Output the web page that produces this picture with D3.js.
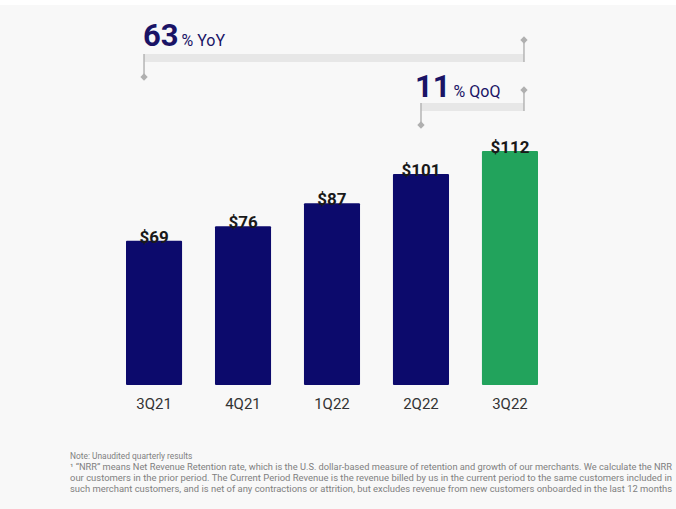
<!DOCTYPE html>
<html>
<head>
<meta charset="utf-8">
<script src="https://cdn.jsdelivr.net/npm/d3@7"></script>
<style>
  html, body { margin: 0; padding: 0; background: #f8f8f8; overflow: hidden; }
  svg { display: block; }
</style>
</head>
<body>
<svg id="chart" width="676" height="509"></svg>
<script>
// Quarterly revenue ($M)
const quarters = ["3Q21", "4Q21", "1Q22", "2Q22", "3Q22"];
const revenue = [69, 76, 87, 101, 112];
const valueLabels = ["$69", "$76", "$87", "$101", "$112"];

// Growth call-outs
const growthValues = ["63", "11"];
const growthUnits = ["% YoY", "% QoQ"];

const footnotes = [
  "Note: Unaudited quarterly results",
  "\u00B9 \u201CNRR\u201D means Net Revenue Retention rate, which is the U.S. dollar-based measure of retention and growth of our merchants. We calculate the NRR",
  "our customers in the prior period. The Current Period Revenue is the revenue billed by us in the current period to the same customers included in",
  "such merchant customers, and is net of any contractions or attrition, but excludes revenue from new customers onboarded in the last 12 months"
];

const navy = "#0c0a6c";
const green = "#22a35c";

const svg = d3.select("#chart");
svg.append("rect").attr("width", 676).attr("height", 509).attr("fill", "#f8f8f8");
svg.append("rect").attr("width", 676).attr("height", 5).attr("fill", "#ffffff");

const x = d3.scaleBand().domain(quarters).range([126, 538]).paddingInner(0.37).paddingOuter(0);
const y = d3.scaleLinear().domain([0, 112]).range([385, 151]);
const bw = x.bandwidth();
const cx = q => x(q) + bw / 2;

// Bars
svg.append("g").selectAll("rect")
  .data(quarters)
  .join("rect")
  .attr("x", d => x(d))
  .attr("y", (d, i) => y(revenue[i]))
  .attr("width", bw)
  .attr("height", (d, i) => y(0) - y(revenue[i]))
  .attr("rx", 1)
  .attr("fill", (d, i) => i === quarters.length - 1 ? green : navy);

// Value labels sitting on the bar tops
svg.append("g").selectAll("text")
  .data(quarters)
  .join("text")
  .attr("x", d => cx(d))
  .attr("y", (d, i) => y(revenue[i]) + 2)
  .attr("text-anchor", "middle")
  .attr("font-family", "Roboto, Arial, sans-serif")
  .attr("font-weight", "bold")
  .attr("font-size", 17)
  .attr("fill", "#1a1a1a")
  .text((d, i) => valueLabels[i]);

// Category axis labels
svg.append("g").selectAll("text")
  .data(quarters)
  .join("text")
  .attr("x", d => cx(d))
  .attr("y", 409)
  .attr("text-anchor", "middle")
  .attr("font-family", "Roboto, Arial, sans-serif")
  .attr("font-size", 15)
  .attr("fill", "#333")
  .text(d => d);

// Growth brackets: a grey band with a stem dropping to the start quarter and a stem rising at the end
function bracket(x0, x1, barY, leftTip, rightTip, value, unit, textX, textY) {
  const g = svg.append("g");
  g.append("rect").attr("x", x0).attr("y", barY).attr("width", x1 - x0).attr("height", 8).attr("fill", "#e7e7e7");
  g.append("line").attr("x1", x0).attr("x2", x0).attr("y1", barY).attr("y2", leftTip)
    .attr("stroke", "#b5b5b5").attr("stroke-width", 1.5);
  g.append("line").attr("x1", x1).attr("x2", x1).attr("y1", barY + 8).attr("y2", rightTip)
    .attr("stroke", "#b5b5b5").attr("stroke-width", 1.5);
  const diamond = d3.symbol().type(d3.symbolDiamond2).size(34);
  g.append("path").attr("d", diamond).attr("transform", `translate(${x0},${leftTip})`).attr("fill", "#b0b0b0");
  g.append("path").attr("d", diamond).attr("transform", `translate(${x1},${rightTip})`).attr("fill", "#b0b0b0");
  const t = g.append("text").attr("x", textX).attr("y", textY)
    .attr("font-family", "Roboto, Arial, sans-serif").attr("fill", "#1a1466");
  t.append("tspan").attr("font-weight", "bold").attr("font-size", 31).text(value);
  t.append("tspan").attr("font-size", 16).attr("dx", 3).text(unit);
}

const last = quarters[quarters.length - 1];
bracket(cx(quarters[0]) - 10, cx(last) + 14, 54, 77, 40, growthValues[0], growthUnits[0], 143, 46);
bracket(cx(quarters[3]), cx(last) + 14, 103, 125, 90, growthValues[1], growthUnits[1], 415, 97);

// Footnotes; the long lines are fitted to run out to the right margin
svg.append("g").selectAll("text")
  .data(footnotes)
  .join("text")
  .attr("x", 70)
  .attr("y", (d, i) => 459 + i * 11)
  .attr("font-family", "Roboto, Arial, sans-serif")
  .attr("font-size", 8.4)
  .attr("fill", "#808080")
  .each(function (d, i) {
    if (i > 0) d3.select(this).attr("textLength", 602).attr("lengthAdjust", "spacingAndGlyphs");
  })
  .text(d => d);
</script>
</body>
</html>
